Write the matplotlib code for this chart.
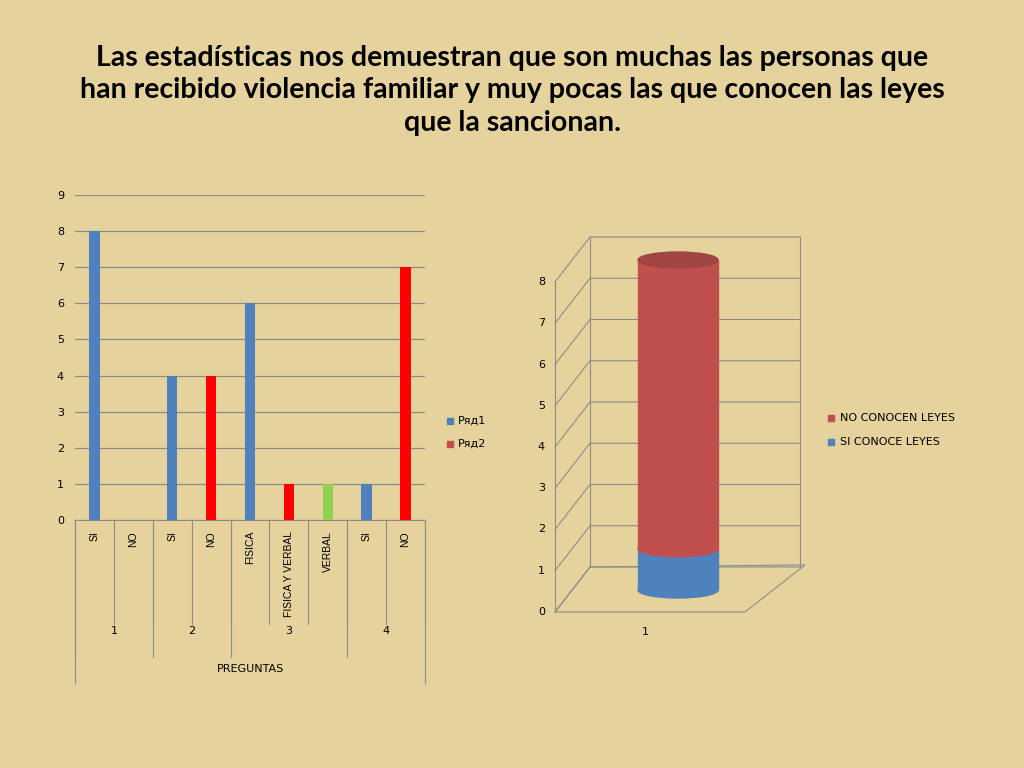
import matplotlib
matplotlib.use("Agg")
import matplotlib.pyplot as plt
from matplotlib.patches import Ellipse, Rectangle, Polygon
import numpy as np

title = ("Las estadísticas nos demuestran que son muchas las personas que\n"
         "han recibido violencia familiar y muy pocas las que conocen las leyes\n"
         "que la sancionan.")
categories = ["SI", "NO", "SI", "NO", "FISICA", "FISICA Y VERBAL", "VERBAL", "SI", "NO"]
values = [8, 0, 4, 4, 6, 1, 1, 1, 7]
bar_colors = ["#4f81bd", "#4f81bd", "#4f81bd", "#ff0000", "#4f81bd", "#ff0000", "#92d050", "#4f81bd", "#ff0000"]
groups = ["1", "2", "3", "4"]
group_spans = [(0, 2), (2, 4), (4, 7), (7, 9)]
legend_left = ["Ряд1", "Ряд2"]

cyl_labels = ["SI CONOCE LEYES", "NO CONOCEN LEYES"]
cyl_values = [1, 7]
cyl_colors = ["#4f81bd", "#c0504d"]

fig = plt.figure(figsize=(10.24, 7.68), dpi=100)
fig.patch.set_facecolor("#e6d29c")
fig.text(0.5, 0.942, title, ha="center", va="top", fontsize=20.5, fontweight="bold",
         family="Lato", linespacing=1.32)

W, H = 1024, 768
ax = fig.add_axes([75/W, 1-520/H, 350/W, 325/H])
ax.set_facecolor("none")
x = np.arange(len(categories))
ax.bar(x, values, width=0.27, color=bar_colors, zorder=3)
ax.set_xlim(-0.5, len(categories)-0.5)
ax.set_ylim(0, 9)
ax.set_yticks(range(10))
ax.yaxis.grid(True, color="#8c8c8c", lw=0.9, zorder=0)
for s in ["top", "right", "left"]:
    ax.spines[s].set_visible(False)
ax.spines["bottom"].set_color("#8c8c8c")
ax.tick_params(axis="y", length=0, labelsize=8, pad=8)
ax.set_xticks(x)
ax.set_xticklabels(categories, rotation=90, fontsize=7.5, family="Liberation Sans")
ax.tick_params(axis="x", length=0, pad=8)
trans = ax.get_xaxis_transform()
for i in range(len(categories)+1):
    ax.plot([i-0.5, i-0.5], [0, -0.32], color="#8c8c8c", lw=0.8, transform=trans, clip_on=False)
for g, (a, b) in zip(groups, group_spans):
    ax.plot([a-0.5, a-0.5], [0, -0.42], color="#8c8c8c", lw=0.8, transform=trans, clip_on=False)
    ax.text((a+b-1)/2, -0.34, g, ha="center", va="center", fontsize=8, transform=trans)
ax.plot([-0.5, -0.5], [0, -0.5], color="#8c8c8c", lw=0.8, transform=trans, clip_on=False)
ax.plot([8.5, 8.5], [0, -0.5], color="#8c8c8c", lw=0.8, transform=trans, clip_on=False)
ax.text(4, -0.46, "PREGUNTAS", ha="center", va="center", fontsize=8, transform=trans)
for j, (lab, c) in enumerate(zip(legend_left, ["#4f81bd", "#c0504d"])):
    fig.patches.append(Rectangle((447/W, 1-(424+j*23)/H), 6/W, 6/H, color=c, transform=fig.transFigure))
    fig.text(458/W, 1-(421+j*23)/H, lab, fontsize=8, va="center")

ov = fig.add_axes([0, 0, 1, 1])
ov.set_xlim(0, W); ov.set_ylim(H, 0); ov.axis("off")
unit = 41.25
def yf(v): return 612 - v*unit
gc = "#8c8c8c"
for v in range(0, 9):
    y0 = yf(v)
    ov.plot([555, 590, 800], [y0, y0-45, y0-45], color=gc, lw=0.8)
    ov.text(545, y0, str(v), ha="right", va="center", fontsize=8)
ov.plot([555, 555], [yf(0), yf(8)], color=gc, lw=0.8)
ov.plot([590, 590], [yf(0)-45, yf(8)-45], color=gc, lw=0.8)
ov.plot([800, 800], [yf(0)-45, yf(8)-45], color=gc, lw=0.8)
ov.add_patch(Polygon([[555, 612], [745, 612], [805, 565], [590, 567]], closed=True, fill=False, ec=gc, lw=0.8))
ov.text(645, 632, "1", ha="center", va="center", fontsize=8)

cx, hw, eh, base = 678, 40, 16, 590
bottom = 0
for v, c in zip(cyl_values, cyl_colors):
    y_b = base - bottom*unit
    y_t = base - (bottom+v)*unit
    ov.add_patch(Ellipse((cx, y_b), 2*hw, eh, color=c, zorder=3))
    ov.add_patch(Rectangle((cx-hw, y_t), 2*hw, y_b-y_t, color=c, zorder=3))
    bottom += v
ov.add_patch(Ellipse((cx, base - bottom*unit), 2*hw, eh, color="#a04542", zorder=4))

for j, (lab, c) in enumerate(zip(cyl_labels[::-1], cyl_colors[::-1])):
    ov.add_patch(Rectangle((828, 418+j*24-3), 6, 6, color=c))
    ov.text(840, 418+j*24, lab, fontsize=8, va="center")

fig.savefig("out.png", dpi=100, facecolor=fig.get_facecolor())
